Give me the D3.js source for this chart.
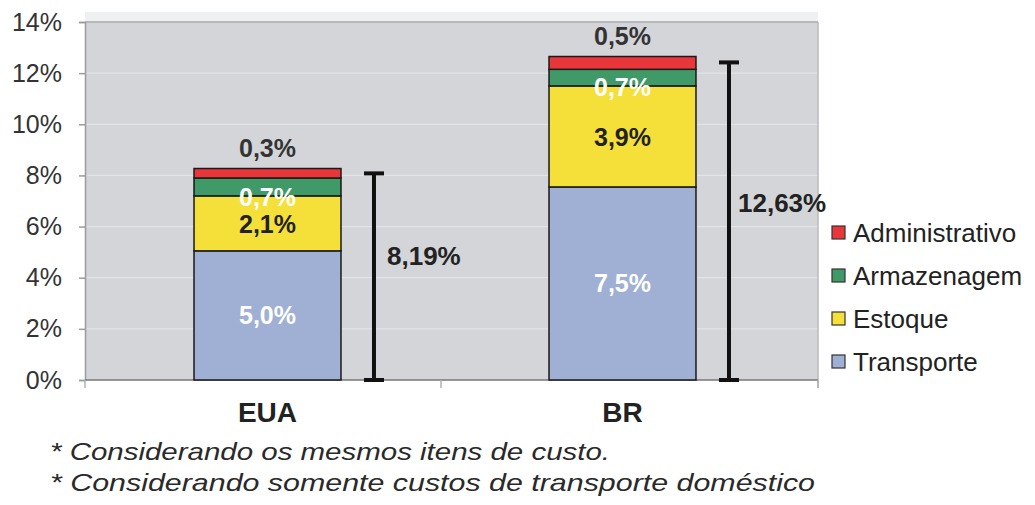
<!DOCTYPE html>
<html><head><meta charset="utf-8">
<script src="https://cdn.jsdelivr.net/npm/d3@7"></script>
<style>
html,body{margin:0;padding:0;background:#fff;}
svg text{font-family:"Liberation Sans",Arial,sans-serif;}
</style></head>
<body>
<svg id="chart" width="1035" height="505"></svg>
<script>
const categories = ["EUA", "BR"];
const seriesNames = ["Transporte", "Estoque", "Armazenagem", "Administrativo"];
const transporte = [5.05, 7.55];
const estoque = [2.15, 3.95];
const armazenagem = [0.7, 0.65];
const administrativo = [0.37, 0.5];
const segLabels = {
  Transporte: ["5,0%", "7,5%"],
  Estoque: ["2,1%", "3,9%"],
  Armazenagem: ["0,7%", "0,7%"],
  Administrativo: ["0,3%", "0,5%"]
};
const bracketTop = [8.08, 12.42];
const bracketLabels = ["8,19%", "12,63%"];
const yTicks = [0, 2, 4, 6, 8, 10, 12, 14];
const legendOrder = ["Administrativo", "Armazenagem", "Estoque", "Transporte"];
const footnotes = ["* Considerando os mesmos itens de custo.",
                   "* Considerando somente custos de transporte doméstico"];

const colors = {Transporte:"#9fb0d4", Estoque:"#f5e03a", Armazenagem:"#3f9a68", Administrativo:"#e8363a"};
const labelColors = {Transporte:"#ffffff", Estoque:"#222222", Armazenagem:"#ffffff", Administrativo:"#333333"};

const svg = d3.select("#chart");
const plot = {left:85, right:818, top:22, bottom:380};

const y = d3.scaleLinear().domain([0,14]).range([plot.bottom, plot.top]);
const x = d3.scaleBand().domain(categories).range([90, 800]).padding(0);
const barW = x.bandwidth()*0.414;

// plot background
svg.append("rect").attr("x",plot.left).attr("y",plot.top-10).attr("width",plot.right-plot.left).attr("height",10).attr("fill","#eef0f2");
svg.append("rect").attr("x",plot.left).attr("y",plot.top).attr("width",plot.right-plot.left).attr("height",plot.bottom-plot.top).attr("fill","#d3d5d8");

// gridlines
svg.append("g").selectAll("line").data(yTicks.slice(1)).join("line")
  .attr("x1",plot.left).attr("x2",plot.right)
  .attr("y1",d=>y(d)).attr("y2",d=>y(d))
  .attr("stroke","#e2e4e6").attr("stroke-width",1.2);
svg.append("line").attr("x1",plot.left).attr("x2",plot.right).attr("y1",plot.top).attr("y2",plot.top).attr("stroke","#a8aaad").attr("stroke-width",1.5);
svg.append("line").attr("x1",plot.right).attr("x2",plot.right).attr("y1",plot.top).attr("y2",plot.bottom+8).attr("stroke","#b8babd").attr("stroke-width",1.5);

// y axis
const yAxis = svg.append("g").attr("transform",`translate(${plot.left},0)`)
  .call(d3.axisLeft(y).tickValues(yTicks).tickFormat(d=>d+"%").tickSize(6).tickPadding(17));
yAxis.select(".domain").attr("stroke","#9a9c9f").attr("stroke-width",1.5);
yAxis.selectAll(".tick line").attr("stroke","#9a9c9f").attr("stroke-width",1.5);
yAxis.selectAll(".tick text").attr("font-size",25).attr("fill","#333").attr("font-family","Liberation Sans, Arial, sans-serif");

// x axis
svg.append("line").attr("x1",plot.left).attr("x2",plot.right).attr("y1",plot.bottom).attr("y2",plot.bottom).attr("stroke","#777").attr("stroke-width",1.5);
const xTickPos = [plot.left, (x("EUA")+x.bandwidth()+x("BR"))/2 - 4, plot.right];
svg.append("g").selectAll("line").data(xTickPos).join("line")
  .attr("x1",d=>d).attr("x2",d=>d).attr("y1",plot.bottom).attr("y2",plot.bottom+8)
  .attr("stroke","#b0b2b5").attr("stroke-width",1.5);
svg.append("g").selectAll("text").data(categories).join("text")
  .attr("x",d=>x(d)+x.bandwidth()/2).attr("y",422)
  .attr("text-anchor","middle").attr("font-size",28).attr("font-weight","bold").attr("fill","#222")
  .text(d=>d);

// stacked bars
const rows = categories.map((c,i)=>({cat:c, Transporte:transporte[i], Estoque:estoque[i], Armazenagem:armazenagem[i], Administrativo:administrativo[i]}));
const stack = d3.stack().keys(seriesNames)(rows);
const gBars = svg.append("g");
stack.forEach(layer=>{
  gBars.append("g").selectAll("rect").data(layer).join("rect")
    .attr("x",d=>x(d.data.cat)+x.bandwidth()/2-barW/2)
    .attr("width",barW)
    .attr("y",d=>y(d[1]))
    .attr("height",d=>y(d[0])-y(d[1]))
    .attr("fill",colors[layer.key])
    .attr("stroke","#1a1a1a").attr("stroke-width",1.5);
});
// segment labels
stack.forEach(layer=>{
  gBars.append("g").selectAll("text").data(layer).join("text")
    .attr("x",d=>x(d.data.cat)+x.bandwidth()/2)
    .attr("y",(d,i)=>{
      if(layer.key==="Administrativo") return y(d[1])-20;
      if(layer.key==="Armazenagem") return y((d[0]+d[1])/2)+10;
      if(layer.key==="Estoque") return y((d[0]+d[1])/2)+1;
      return y((d[0]+d[1])/2);
    })
    .attr("dy","0.35em")
    .attr("text-anchor","middle").attr("font-size",25).attr("font-weight","bold")
    .attr("fill",labelColors[layer.key])
    .text((d,i)=>segLabels[layer.key][i]);
});

// brackets
const bx = categories.map(c=>x(c)+x.bandwidth()/2+barW/2+33);
const gBr = svg.append("g");
categories.forEach((c,i)=>{
  gBr.append("line").attr("x1",bx[i]).attr("x2",bx[i]).attr("y1",y(bracketTop[i])).attr("y2",y(0))
    .attr("stroke","#111").attr("stroke-width",4);
  [bracketTop[i],0].forEach(v=>{
    gBr.append("line").attr("x1",bx[i]-10).attr("x2",bx[i]+10).attr("y1",y(v)).attr("y2",y(v))
      .attr("stroke","#111").attr("stroke-width",4);
  });
});
gBr.append("text").attr("x",bx[0]+13).attr("y",256).attr("dy","0.35em").attr("font-size",26).attr("font-weight","bold").attr("fill","#222").text(bracketLabels[0]);
gBr.append("text").attr("x",bx[1]+9).attr("y",203).attr("dy","0.35em").attr("font-size",26).attr("font-weight","bold").attr("fill","#222").text(bracketLabels[1]);

// legend
const leg = svg.append("g").attr("transform","translate(832,233)");
legendOrder.forEach((k,i)=>{
  const g = leg.append("g").attr("transform",`translate(0,${i*43})`);
  g.append("rect").attr("x",0).attr("y",-7).attr("width",13).attr("height",13)
    .attr("fill",colors[k]).attr("stroke","#333").attr("stroke-width",1.2);
  g.append("text").attr("x",21).attr("y",0).attr("dy","0.35em").attr("font-size",26).attr("fill","#222").text(k);
});

// footnotes
svg.append("g").selectAll("text").data(footnotes).join("text")
  .attr("x",50).attr("y",(d,i)=>452+i*31).attr("dy","0.35em")
  .attr("font-size",24).attr("font-style","italic").attr("fill","#2a2a2a")
  .attr("textLength",(d,i)=>i===0?560:765).attr("lengthAdjust","spacingAndGlyphs")
  .text(d=>d);
</script>
</body></html>
